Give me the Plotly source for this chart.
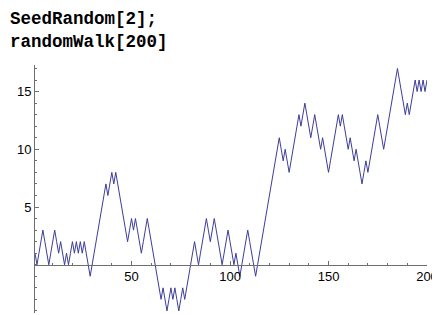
import plotly.graph_objects as go

# Random-walk values (step 1..200)
walk_values = [
    1, 0, 1, 2, 3, 2, 1, 0, 1, 2,
    3, 2, 1, 2, 1, 0, 1, 0, 1, 2,
    1, 2, 1, 2, 1, 2, 1, 0, -1, 0,
    1, 2, 3, 4, 5, 6, 7, 6, 7, 8,
    7, 8, 7, 6, 5, 4, 3, 2, 3, 4,
    3, 4, 3, 2, 1, 2, 3, 4, 3, 2,
    1, 0, -1, -2, -3, -2, -3, -4, -3, -2,
    -3, -2, -3, -4, -3, -2, -3, -2, -1, 0,
    1, 2, 1, 0, 1, 2, 3, 4, 3, 2,
    3, 4, 3, 2, 1, 0, 1, 2, 3, 2,
    1, 0, 1, 0, -1, 0, 1, 2, 3, 2,
    1, 0, -1, 0, 1, 2, 3, 4, 5, 6,
    7, 8, 9, 10, 11, 10, 9, 10, 9, 8,
    9, 10, 11, 12, 13, 12, 13, 14, 13, 12,
    11, 12, 13, 12, 11, 10, 11, 10, 9, 8,
    9, 10, 11, 12, 13, 12, 13, 12, 11, 10,
    11, 10, 9, 10, 9, 8, 7, 8, 9, 8,
    9, 10, 11, 12, 13, 12, 11, 10, 11, 12,
    13, 14, 15, 16, 17, 16, 15, 14, 13, 14,
    13, 14, 15, 16, 15, 16, 15, 16, 15, 16,
]
steps = list(range(1, len(walk_values) + 1))

x_tick_vals = [50, 100, 150, 200]
x_tick_text = ["50", "100", "150", "200"]
y_tick_vals = [5, 10, 15]
y_tick_text = ["5", "10", "15"]

code_lines = ["SeedRandom[2];", "randomWalk[200]"]

Y_MIN, Y_MAX = -4.18, 17.3
axis_col = "#6e6e6e"
line_col = "rgb(61,61,153)"

fig = go.Figure()
fig.add_trace(go.Scatter(x=steps, y=walk_values, mode="lines",
                         line=dict(color=line_col, width=1), hoverinfo="skip"))

OFF = 8  # page body margin offset
L, R, T, B = 35 - OFF, 13, 65 - OFF, 2
W, H = 440 - OFF, 315 - OFF
pw, ph = W - L - R, H - T - B

fig.update_layout(
    width=W, height=H,
    margin=dict(l=L, r=R, t=T, b=B, pad=0, autoexpand=False),
    paper_bgcolor="white", plot_bgcolor="white",
    showlegend=False,
    font=dict(family="Liberation Sans, Arial, sans-serif", size=13, color="black"),
    xaxis=dict(
        range=[1, 200], showgrid=False, zeroline=False, automargin=False,
        showline=True, linecolor=axis_col, linewidth=1,
        anchor="free", position=(0 - Y_MIN) / (Y_MAX - Y_MIN),
        tickmode="array", tickvals=x_tick_vals, ticktext=x_tick_text,
        ticks="inside", ticklen=4, tickcolor=axis_col, tickwidth=1,
        minor=dict(tickmode="linear", tick0=0, dtick=10, ticks="inside",
                   ticklen=2, tickcolor=axis_col, tickwidth=1, showgrid=False),
        tickfont=dict(size=13, color="black"),
    ),
    yaxis=dict(
        range=[Y_MIN, Y_MAX], showgrid=False, zeroline=False, automargin=False,
        showline=True, linecolor=axis_col, linewidth=1,
        tickmode="array", tickvals=y_tick_vals, ticktext=y_tick_text,
        ticks="inside", ticklen=4, tickcolor=axis_col, tickwidth=1,
        minor=dict(tickmode="linear", tick0=0, dtick=1, ticks="inside",
                   ticklen=2, tickcolor=axis_col, tickwidth=1, showgrid=False),
        tickfont=dict(size=13, color="black"),
    ),
)

# code cell text (two lines, bold monospace); box bottom given in figure pixels
for txt, box_bottom in zip(code_lines, [23, 46]):
    fig.add_annotation(
        text="<b>" + txt + "</b>", showarrow=False,
        xref="paper", yref="paper",
        x=(0 - L) / pw, y=(H - B - box_bottom) / ph,
        xanchor="left", yanchor="bottom",
        font=dict(family="Liberation Mono, Courier New, monospace", size=17.5, color="black"),
    )

fig.write_html("out.html")
